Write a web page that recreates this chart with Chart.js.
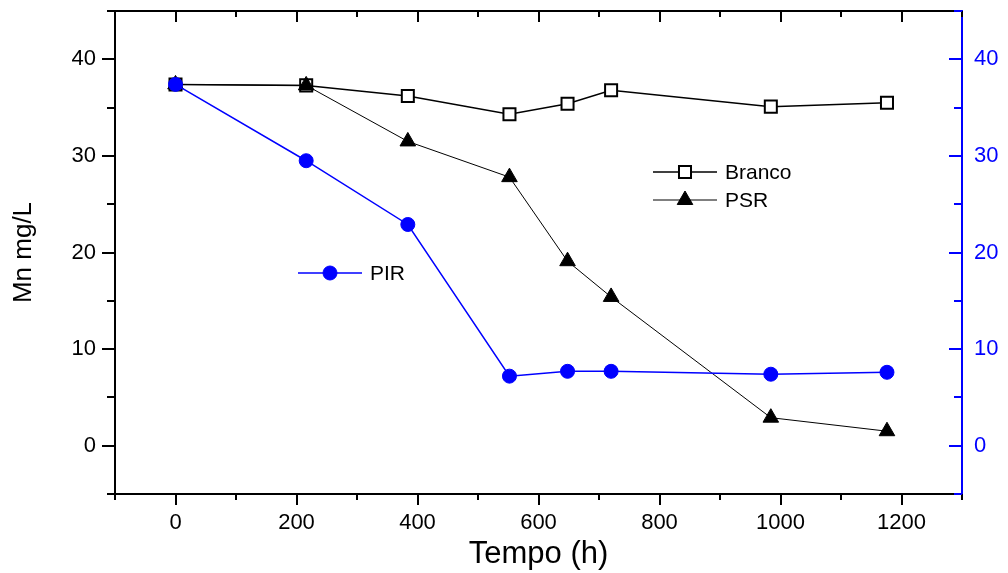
<!DOCTYPE html>
<html>
<head>
<meta charset="utf-8">
<script src="https://cdn.jsdelivr.net/npm/chart.js@4/dist/chart.umd.min.js"></script>
<style>
  body { margin: 0; background: #fff; }
  #wrap { width: 1008px; height: 573px; position: relative; }
</style>
</head>
<body>
<div id="wrap"><canvas id="myChart"></canvas></div>
<script>
// dados
const tempo = [0, 216, 384, 552, 648, 720, 984, 1176];
const branco = [37.4, 37.3, 36.2, 34.3, 35.4, 36.8, 35.1, 35.5];
const psr = [37.4, 37.3, 31.5, 27.8, 19.1, 15.4, 2.9, 1.5];
const pir = [37.4, 29.5, 22.9, 7.2, 7.7, 7.7, 7.4, 7.6];

const xTicks = [0, 200, 400, 600, 800, 1000, 1200];
const yTicks = [0, 10, 20, 30, 40];

const fonte = "'Liberation Sans', Arial, sans-serif";
const azul = '#0000ff';

function pontos(vals) {
    return tempo.map((t, i) => ({ x: t, y: vals[i] }));
}

// ticks à mão (para dentro / para fora como no Origin)
const ticksPlugin = {
    id: 'ticksOrigin',
    afterDraw(chart) {
        const ctx = chart.ctx;
        const x = chart.scales.x, y = chart.scales.y, y2 = chart.scales.y2;
        const a = chart.chartArea;
        ctx.save();
        ctx.lineWidth = 2;
        ctx.strokeStyle = '#000';
        // eixo de cima (falta no chart.js)
        ctx.beginPath();
        ctx.moveTo(a.left - 1, a.top);
        ctx.lineTo(a.right, a.top);
        ctx.stroke();
        for (let v = -100; v <= 1300; v += 100) {
            const px = Math.round(x.getPixelForValue(v));
            const len = (v % 200 === 0) ? 11 : 6;
            ctx.beginPath();
            ctx.moveTo(px, a.bottom);
            ctx.lineTo(px, a.bottom + len);
            ctx.moveTo(px, a.top);
            ctx.lineTo(px, a.top + len);
            ctx.stroke();
        }
        for (let v = -5; v <= 45; v += 5) {
            const py = Math.round(y.getPixelForValue(v));
            const len = (v % 10 === 0) ? 13 : 8;
            ctx.strokeStyle = '#000';
            ctx.beginPath();
            ctx.moveTo(a.left, py);
            ctx.lineTo(a.left - len, py);
            ctx.stroke();
            const py2 = Math.round(y2.getPixelForValue(v));
            ctx.strokeStyle = azul;
            ctx.beginPath();
            ctx.moveTo(a.right, py2);
            ctx.lineTo(a.right - len, py2);
            ctx.stroke();
        }
        ctx.restore();
    }
};

// legendas dentro do gráfico
const legendaPlugin = {
    id: 'legendaOrigin',
    afterDraw(chart) {
        const ctx = chart.ctx;
        const itens = [
            { ds: 2, x: 653, y: 172, txt: 'Branco' },
            { ds: 1, x: 653, y: 200, txt: 'PSR' },
            { ds: 0, x: 298, y: 273, txt: 'PIR' }
        ];
        ctx.save();
        itens.forEach(it => {
            const d = chart.data.datasets[it.ds];
            ctx.strokeStyle = d.borderColor;
            ctx.lineWidth = d.borderWidth;
            ctx.beginPath();
            ctx.moveTo(it.x, it.y);
            ctx.lineTo(it.x + 64, it.y);
            ctx.stroke();
            ctx.fillStyle = d.pointBackgroundColor;
            ctx.strokeStyle = d.pointBorderColor;
            ctx.lineWidth = d.pointBorderWidth;
            Chart.helpers.drawPoint(ctx, {
                pointStyle: d.pointStyle,
                radius: d.pointRadius,
                borderWidth: d.pointBorderWidth
            }, it.x + 32, it.y);
            ctx.fillStyle = '#000';
            ctx.font = '21px ' + fonte;
            ctx.textBaseline = 'middle';
            ctx.fillText(it.txt, it.x + 72, it.y + 1);
        });
        ctx.restore();
    }
};

var ctx = document.getElementById('myChart').getContext('2d');
var myChart = new Chart(ctx, {
    type: 'line',
    data: {
        datasets: [{
            label: 'PIR',
            data: pontos(pir),
            borderColor: azul,
            borderWidth: 1.5,
            pointStyle: 'circle',
            pointRadius: 7,
            pointBackgroundColor: azul,
            pointBorderColor: azul,
            pointBorderWidth: 1,
            yAxisID: 'y2'
        }, {
            label: 'PSR',
            data: pontos(psr),
            borderColor: '#000',
            borderWidth: 1,
            pointStyle: 'triangle',
            pointRadius: 9,
            pointBackgroundColor: '#000',
            pointBorderColor: '#000',
            pointBorderWidth: 1,
            yAxisID: 'y'
        }, {
            label: 'Branco',
            data: pontos(branco),
            borderColor: '#000',
            borderWidth: 1.5,
            pointStyle: 'rect',
            pointRadius: 8.5,
            pointBackgroundColor: '#fff',
            pointBorderColor: '#000',
            pointBorderWidth: 2,
            yAxisID: 'y'
        }]
    },
    options: {
        responsive: true,
        maintainAspectRatio: false,
        animation: false,
        layout: { padding: { top: 11, left: 0, right: 0, bottom: 0 } },
        plugins: {
            legend: { display: false },
            tooltip: { enabled: false }
        },
        elements: { line: { tension: 0 } },
        scales: {
            x: {
                type: 'linear',
                min: -100,
                max: 1300,
                grid: { display: false, drawTicks: false },
                border: { display: true, color: '#000', width: 2 },
                afterBuildTicks: s => { s.ticks = xTicks.map(v => ({ value: v })); },
                afterFit: s => { s.height = 79; s.paddingLeft = 0; s.paddingRight = 0; },
                ticks: { color: '#000', padding: 16, maxRotation: 0, callback: v => String(v), font: { family: fonte, size: 22 } },
                title: { display: true, text: 'Tempo (h)', color: '#000', padding: { top: 0, bottom: 0 }, font: { family: fonte, size: 31 } }
            },
            y: {
                position: 'left',
                min: -5,
                max: 45,
                grid: { display: false, drawTicks: false },
                border: { display: true, color: '#000', width: 2 },
                afterBuildTicks: s => { s.ticks = yTicks.map(v => ({ value: v })); },
                afterFit: s => { s.width = 115; s.paddingTop = 0; s.paddingBottom = 0; },
                ticks: { color: '#000', padding: 19, callback: v => String(v), font: { family: fonte, size: 22 } },
                title: { display: true, text: 'Mn mg/L', color: '#000', padding: { top: 8, bottom: 0 }, font: { family: fonte, size: 26 } }
            },
            y2: {
                position: 'right',
                min: -5,
                max: 45,
                grid: { display: false, drawTicks: false },
                border: { display: true, color: azul, width: 2 },
                afterBuildTicks: s => { s.ticks = yTicks.map(v => ({ value: v })); },
                afterFit: s => { s.width = 46; s.paddingTop = 0; s.paddingBottom = 0; },
                ticks: { color: azul, padding: 12, callback: v => String(v), font: { family: fonte, size: 22 } }
            }
        }
    },
    plugins: [ticksPlugin, legendaPlugin]
});
</script>
</body>
</html>
